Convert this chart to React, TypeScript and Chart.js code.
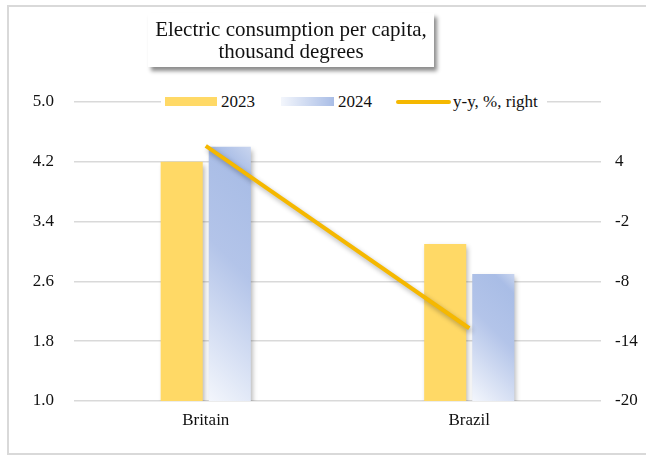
import React, { useEffect, useRef } from "react";
import { Chart, registerables } from "chart.js";

Chart.register(...registerables);

const categories = ["Britain", "Brazil"];
const values2023 = [4.2, 3.1];
const values2024 = [4.4, 2.7];
const yoyRight = [5.6, -12.7];
const leftTicks = [1.0, 1.8, 2.6, 3.4, 4.2, 5.0];
const rightTicks = [-20, -14, -8, -2, 4];

const FONT = "'Liberation Serif', 'Times New Roman', serif";
const YELLOW = "#FFD966";
const LINE = "#F5B800";
const CAT_PCT = 0.365;
const BAR_PCT = 0.875;

export default function App() {
  const ref = useRef<HTMLCanvasElement | null>(null);

  useEffect(() => {
    if (!ref.current) return;

    const blueGradient = (c: any) => {
      const chart = c.chart;
      const xs = chart.scales?.x;
      const ys = chart.scales?.y;
      if (!xs || !ys || c.type !== "data" || xs.width === undefined) return "#a9bde6";
      const catW = xs.width / categories.length;
      const slot = (catW * CAT_PCT) / 2;
      const bw = slot * BAR_PCT;
      const center = xs.getPixelForValue(c.dataIndex);
      const left = center + (slot - bw) / 2;
      const top = ys.getPixelForValue(c.raw);
      const bottom = ys.getPixelForValue(leftTicks[0]);
      const h = bottom - top;
      const L = (bw + h) / 2;
      const g = chart.ctx.createLinearGradient(left, bottom, left + L, bottom - L);
      g.addColorStop(0, "#f3f6fc");
      g.addColorStop(0.55, "#b3c4e9");
      g.addColorStop(0.88, "#a9bde6");
      g.addColorStop(1, "#c9d5ef");
      return g;
    };

    const shadowPlugin = {
      id: "shadow",
      beforeDatasetsDraw(chart: any) {
        const ctx = chart.ctx;
        ctx.save();
        ctx.shadowColor = "rgba(0,0,0,0.3)";
        ctx.shadowBlur = 5;
        ctx.shadowOffsetX = 2;
        ctx.shadowOffsetY = 3;
      },
      afterDatasetsDraw(chart: any) {
        chart.ctx.restore();
      },
    };

    const chart = new Chart(ref.current, {
      type: "bar",
      data: {
        labels: categories,
        datasets: [
          {
            type: "line",
            label: "y-y, %, right",
            data: yoyRight,
            yAxisID: "y1",
            borderColor: LINE,
            backgroundColor: LINE,
            borderWidth: 4,
            pointRadius: 0,
            order: 0,
          } as any,
          {
            label: "2023",
            data: values2023,
            backgroundColor: YELLOW,
            yAxisID: "y",
            order: 1,
            categoryPercentage: CAT_PCT,
            barPercentage: BAR_PCT,
          },
          {
            label: "2024",
            data: values2024,
            backgroundColor: blueGradient,
            yAxisID: "y",
            order: 1,
            categoryPercentage: CAT_PCT,
            barPercentage: BAR_PCT,
          },
        ],
      },
      options: {
        animation: false,
        responsive: false,
        maintainAspectRatio: false,
        layout: { padding: { top: 102, left: 0, right: 0, bottom: 0 } },
        plugins: { legend: { display: false }, title: { display: false }, tooltip: { enabled: false } },
        scales: {
          x: {
            grid: { display: false, drawTicks: false },
            border: { display: false },
            ticks: { color: "#111", font: { family: FONT, size: 17 }, padding: 9 },
            afterFit: (s: any) => { s.height = 55; },
          },
          y: {
            position: "left",
            min: leftTicks[0],
            max: leftTicks[leftTicks.length - 1],
            afterBuildTicks: (s: any) => { s.ticks = leftTicks.map((v) => ({ value: v })); },
            grid: { color: "#d9d9d9", lineWidth: 1.5, drawTicks: false },
            border: { display: false },
            ticks: {
              color: "#111",
              font: { family: FONT, size: 17 },
              padding: 20,
              callback: (v: any) => Number(v).toFixed(1),
            },
            afterFit: (s: any) => { s.width = 74; },
          },
          y1: {
            position: "right",
            min: -20,
            max: 10,
            afterBuildTicks: (s: any) => { s.ticks = rightTicks.map((v) => ({ value: v })); },
            grid: { display: false, drawTicks: false },
            border: { display: false },
            ticks: {
              color: "#111",
              font: { family: FONT, size: 17 },
              padding: 14,
              callback: (v: any) => String(v),
            },
            afterFit: (s: any) => { s.width = 45; },
          },
        },
      },
      plugins: [shadowPlugin],
    });

    return () => chart.destroy();
  }, []);

  const text: React.CSSProperties = {
    position: "absolute",
    fontFamily: FONT,
    fontSize: 17,
    lineHeight: "20px",
    color: "#111",
    whiteSpace: "nowrap",
  };

  return (
    <div
      style={{
        position: "fixed",
        left: 0,
        top: 0,
        width: 646,
        height: 456,
        overflow: "hidden",
        background: "#fff",
      }}
    >
      <div
        style={{
          position: "absolute",
          left: 7,
          top: 5,
          width: 660,
          height: 446,
          borderTop: "2px solid #d9d9d9",
          borderLeft: "2px solid #d9d9d9",
          borderBottom: "2px solid #d9d9d9",
        }}
      />
      <canvas
        ref={ref}
        width={646}
        height={456}
        style={{ position: "absolute", left: 0, top: 0, width: 646, height: 456 }}
      />
      <div
        style={{
          position: "absolute",
          left: 148,
          top: 13,
          width: 286,
          height: 54,
          background: "#fff",
          boxShadow: "3px 4px 4px rgba(0,0,0,0.45)",
          fontFamily: FONT,
          fontSize: 21,
          lineHeight: "22px",
          color: "#111",
          textAlign: "center",
          paddingTop: 5,
          boxSizing: "border-box",
        }}
      >
        Electric consumption per capita,
        <br />
        thousand degrees
      </div>
      <div style={{ position: "absolute", left: 161, top: 90, width: 386, height: 24, background: "#fff" }} />
      <div style={{ position: "absolute", left: 165, top: 97, width: 52, height: 9, background: YELLOW }} />
      <div style={{ ...text, left: 221, top: 92 }}>2023</div>
      <div
        style={{
          position: "absolute",
          left: 281,
          top: 97,
          width: 53,
          height: 9,
          background: "linear-gradient(to right, #f3f6fc, #a9bde6)",
        }}
      />
      <div style={{ ...text, left: 338, top: 92 }}>2024</div>
      <div
        style={{ position: "absolute", left: 396, top: 100, width: 55, height: 4, borderRadius: 2, background: LINE }}
      />
      <div style={{ ...text, left: 453, top: 92 }}>y-y, %, right</div>
    </div>
  );
}
